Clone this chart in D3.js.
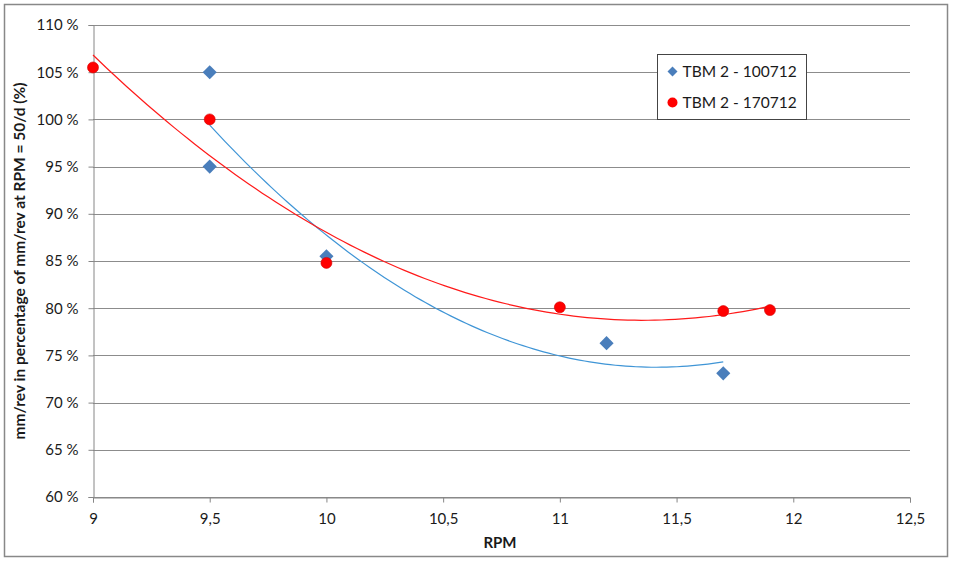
<!DOCTYPE html>
<html>
<head>
<meta charset="utf-8">
<script src="https://cdn.jsdelivr.net/npm/d3@7"></script>
<style>
  body { margin: 0; background: #fff; overflow: hidden; }
  svg { display: block; }
  text { font-family: Lato, "Open Sans", sans-serif; fill: #1a1a1a; }
</style>
</head>
<body>
<div id="chart"></div>
<script>
// data
const seriesNames = ["TBM 2 - 100712", "TBM 2 - 170712"];
const blueRpm = [9.5, 9.5, 10, 11.2, 11.7];
const bluePct = [105, 95, 85.5, 76.3, 73.1];
const redRpm = [9, 9.5, 10, 11, 11.7, 11.9];
const redPct = [105.5, 100, 84.8, 80.1, 79.7, 79.8];
const xTicks = [9, 9.5, 10, 10.5, 11, 11.5, 12, 12.5];
const yTicks = [60, 65, 70, 75, 80, 85, 90, 95, 100, 105, 110];

const width = 954, height = 561;
const margin = {top: 25, right: 44, bottom: 64, left: 93};
const innerWidth = width - margin.left - margin.right;
const innerHeight = height - margin.top - margin.bottom;

const svg = d3.select("#chart").append("svg")
    .attr("width", width).attr("height", height);

// outer chart border
svg.append("rect")
    .attr("x", 4.5).attr("y", 4.5)
    .attr("width", 943).attr("height", 552)
    .attr("fill", "#fff").attr("stroke", "#888").attr("stroke-width", 1.5);

const innerChart = svg.append("g")
    .attr("transform", `translate(${margin.left}, ${margin.top})`);

const xScale = d3.scaleLinear().domain([9, 12.5]).range([0, innerWidth]);
const yScale = d3.scaleLinear().domain([60, 110]).range([innerHeight, 0]);

const fmt = d => String(d).replace(".", ",");

// horizontal gridlines
innerChart.append("g")
    .selectAll("line")
    .data(yTicks)
    .join("line")
        .attr("x1", 0).attr("x2", innerWidth)
        .attr("y1", d => Math.round(yScale(d)) + 0.5)
        .attr("y2", d => Math.round(yScale(d)) + 0.5)
        .attr("stroke", "#8c8c8c");

const leftAxis = d3.axisLeft(yScale)
    .tickValues(yTicks)
    .tickSize(5)
    .tickPadding(10)
    .tickFormat(d => d + " %");
const gy = innerChart.append("g").attr("transform", "translate(0.5,0)").call(leftAxis);

const bottomAxis = d3.axisBottom(xScale)
    .tickValues(xTicks)
    .tickSize(5)
    .tickPadding(11)
    .tickFormat(fmt);
const gx = innerChart.append("g").attr("transform", `translate(0, ${innerHeight + 0.5})`).call(bottomAxis);

[gx, gy].forEach(g => {
    g.select(".domain").attr("stroke", "#868686");
    g.selectAll(".tick line").attr("stroke", "#868686");
    g.selectAll(".tick text").style("font-size", "15px").attr("fill", "#1a1a1a");
});

// least squares quadratic (excel polynomial trendline)
const quadFit = (xs, ys) => {
    let s = [0, 0, 0, 0, 0], t = [0, 0, 0];
    xs.forEach((x, i) => {
        for (let k = 0; k < 5; k++) s[k] += Math.pow(x, k);
        for (let k = 0; k < 3; k++) t[k] += ys[i] * Math.pow(x, k);
    });
    const M = [[s[0], s[1], s[2], t[0]], [s[1], s[2], s[3], t[1]], [s[2], s[3], s[4], t[2]]];
    for (let i = 0; i < 3; i++) {
        for (let j = i + 1; j < 3; j++) {
            const f = M[j][i] / M[i][i];
            for (let k = i; k < 4; k++) M[j][k] -= f * M[i][k];
        }
    }
    const c = [0, 0, 0];
    for (let i = 2; i >= 0; i--) {
        let v = M[i][3];
        for (let k = i + 1; k < 3; k++) v -= M[i][k] * c[k];
        c[i] = v / M[i][i];
    }
    return x => c[0] + c[1] * x + c[2] * x * x;
};

const trend = d3.line()
    .x(d => xScale(d[0]))
    .y(d => yScale(d[1]));

const drawTrend = (xs, ys, color) => {
    const f = quadFit(xs, ys);
    const [lo, hi] = d3.extent(xs);
    const pts = d3.range(0, 101).map(i => {
        const x = lo + (hi - lo) * i / 100;
        return [x, f(x)];
    });
    innerChart.append("path")
        .attr("d", trend(pts))
        .attr("fill", "none")
        .attr("stroke", color)
        .attr("stroke-width", 1.2);
};

drawTrend(blueRpm, bluePct, "#3f95d6");
drawTrend(redRpm, redPct, "#ff1a1a");

const diamond = d3.symbol().type(d3.symbolSquare).size(100);

innerChart.append("g")
    .selectAll("path")
    .data(blueRpm.map((x, i) => [x, bluePct[i]]))
    .join("path")
        .attr("d", diamond)
        .attr("transform", d => `translate(${xScale(d[0])}, ${yScale(d[1])}) rotate(45)`)
        .attr("fill", "#4a7ebb");

innerChart.append("g")
    .selectAll("circle")
    .data(redRpm.map((x, i) => [x, redPct[i]]))
    .join("circle")
        .attr("cx", d => xScale(d[0]))
        .attr("cy", d => yScale(d[1]))
        .attr("r", 5.5)
        .attr("fill", "#f00")
        .attr("stroke", "#d40000")
        .attr("stroke-width", 0.6);

// axis titles
svg.append("text")
    .text("RPM")
    .attr("x", 500).attr("y", 548)
    .attr("text-anchor", "middle")
    .attr("font-weight", "bold")
    .style("font-size", "15px");

svg.append("text")
    .text("mm/rev  in percentage of mm/rev at RPM = 50/d (%)")
    .attr("transform", "translate(25, 261) rotate(-90)")
    .attr("text-anchor", "middle")
    .attr("font-weight", "bold")
    .style("font-size", "15.5px");

// legend
const legend = svg.append("g").attr("transform", "translate(657.5, 54.5)");
legend.append("rect")
    .attr("width", 149).attr("height", 65)
    .attr("fill", "#fff").attr("stroke", "#444");

const legendItems = legend.selectAll(".legend-item")
    .data(seriesNames)
    .join("g")
        .attr("class", "legend-item")
        .attr("transform", (d, i) => `translate(0, ${17 + i * 31})`);

legendItems.filter((d, i) => i === 0)
    .append("path")
    .attr("d", d3.symbol().type(d3.symbolSquare).size(50)())
    .attr("transform", "translate(15, 0) rotate(45)")
    .attr("fill", "#4a7ebb");

legendItems.filter((d, i) => i === 1)
    .append("circle")
    .attr("cx", 15).attr("r", 5)
    .attr("fill", "#f00");

legendItems.append("text")
    .text(d => d)
    .attr("x", 25)
    .attr("dy", "0.35em")
    .style("font-size", "15.5px");
</script>
</body>
</html>
